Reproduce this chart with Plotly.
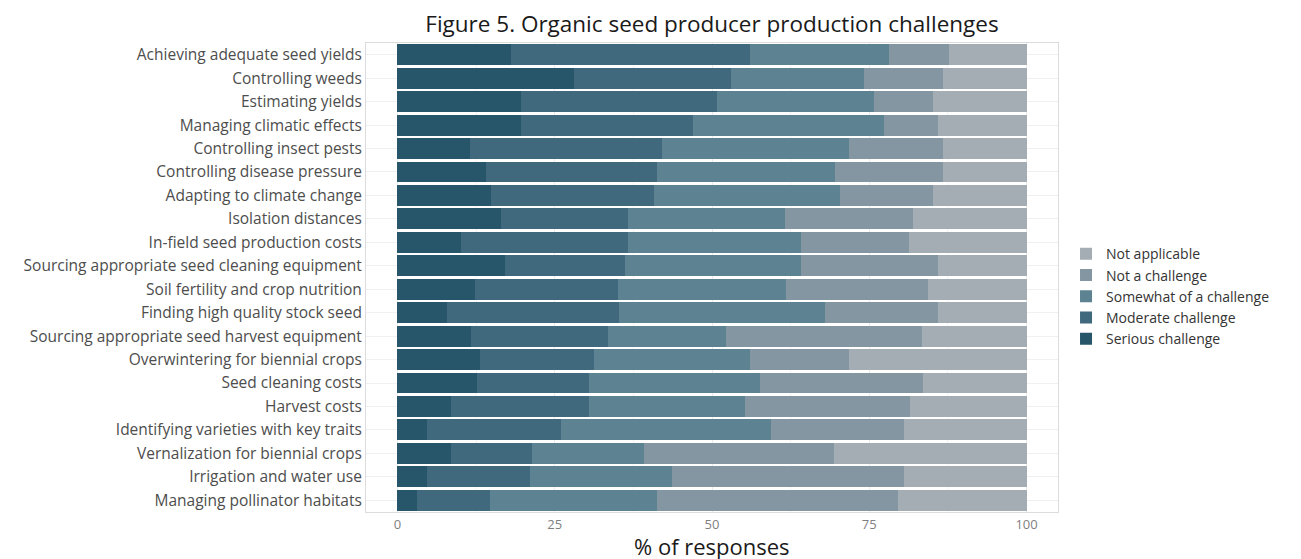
import plotly.graph_objects as go

challenges = [
    "Achieving adequate seed yields",
    "Controlling weeds",
    "Estimating yields",
    "Managing climatic effects",
    "Controlling insect pests",
    "Controlling disease pressure",
    "Adapting to climate change",
    "Isolation distances",
    "In-field seed production costs",
    "Sourcing appropriate seed cleaning equipment",
    "Soil fertility and crop nutrition",
    "Finding high quality stock seed",
    "Sourcing appropriate seed harvest equipment",
    "Overwintering for biennial crops",
    "Seed cleaning costs",
    "Harvest costs",
    "Identifying varieties with key traits",
    "Vernalization for biennial crops",
    "Irrigation and water use",
    "Managing pollinator habitats",
]

serious = [18.0, 28.0, 19.7, 19.6, 11.6, 14.1, 14.9, 16.5, 10.1, 17.1,
           12.4, 7.8, 11.7, 13.1, 12.6, 8.5, 4.7, 8.5, 4.7, 3.1]
moderate = [38.1, 25.0, 31.1, 27.3, 30.5, 27.2, 25.9, 20.2, 26.5, 19.1,
            22.7, 27.4, 21.8, 18.2, 17.9, 22.0, 21.3, 12.9, 16.4, 11.6]
somewhat = [22.0, 21.2, 25.0, 30.4, 29.7, 28.2, 29.5, 24.9, 27.5, 27.9,
            26.6, 32.7, 18.8, 24.8, 27.2, 24.8, 33.3, 17.8, 22.6, 26.6]
not_challenge = [9.5, 12.5, 9.4, 8.6, 14.9, 17.2, 14.8, 20.4, 17.2, 21.8,
                 22.6, 18.0, 31.1, 15.6, 25.8, 26.2, 21.2, 30.2, 36.8, 38.3]
not_applicable = [12.4, 13.3, 14.8, 14.1, 13.3, 13.3, 14.9, 18.0, 18.7, 14.1,
                  15.7, 14.1, 16.6, 28.3, 16.5, 18.5, 19.5, 30.6, 19.5, 20.4]

series_names = ["Serious challenge", "Moderate challenge", "Somewhat of a challenge",
                "Not a challenge", "Not applicable"]
series_values = [serious, moderate, somewhat, not_challenge, not_applicable]
colors = ["#27566b", "#41697e", "#5d8291", "#8396a1", "#a4adb3"]

L, R, T, B = 358, 251, 35, 55
W, H = 1301, 559

fig = go.Figure()
for name, vals, col in zip(series_names, series_values, colors):
    fig.add_trace(go.Bar(
        y=challenges, x=vals, name=name, orientation="h",
        marker=dict(color=col, line=dict(width=0)),
    ))

fig.update_layout(
    barmode="stack",
    bargap=0.11,
    width=W, height=H,
    paper_bgcolor="white", plot_bgcolor="white",
    margin=dict(l=L, r=R, t=T, b=B),
    font=dict(family="Open Sans, sans-serif", color="#4d4d4d"),
    title=dict(text="Figure 5. Organic seed producer production challenges",
               x=(L + (W - L - R) / 2) / W, xanchor="center",
               y=1 - 16 / H, yanchor="middle",
               font=dict(size=22.5, color="#1a1a1a")),
    legend=dict(x=1.0116, y=0.46, xanchor="left", yanchor="middle",
                traceorder="reversed", font=dict(size=14, color="#333333"),
                itemsizing="constant", tracegroupgap=0, bgcolor="rgba(0,0,0,0)"),
    showlegend=True,
    annotations=[dict(text="% of responses", xref="paper", yref="paper",
                      x=0.5, y=-0.0725, xanchor="center", yanchor="middle",
                      showarrow=False, font=dict(size=22, color="#1a1a1a"))],
)
fig.update_xaxes(
    range=[-5, 105], tickvals=[0, 25, 50, 75, 100], ticktext=["0", "25", "50", "75", "100"],
    showgrid=True, gridcolor="#ebebeb", gridwidth=1,
    minor=dict(tickvals=[12.5, 37.5, 62.5, 87.5], showgrid=True, gridcolor="#f4f4f4"),
    zeroline=False, showline=True, mirror=True, linecolor="#dcdcdc", linewidth=1,
    ticks="", tickfont=dict(size=13, color="#7f7f7f"),
)
fig.update_yaxes(
    categoryorder="array", categoryarray=challenges, autorange="reversed",
    showgrid=True, gridcolor="#f0f0f0", showline=True, mirror=True,
    linecolor="#dcdcdc", linewidth=1, ticks="", ticklabelstandoff=0,
    tickfont=dict(size=15.5, color="#4d4d4d"),
)

fig.write_html("out.html")
